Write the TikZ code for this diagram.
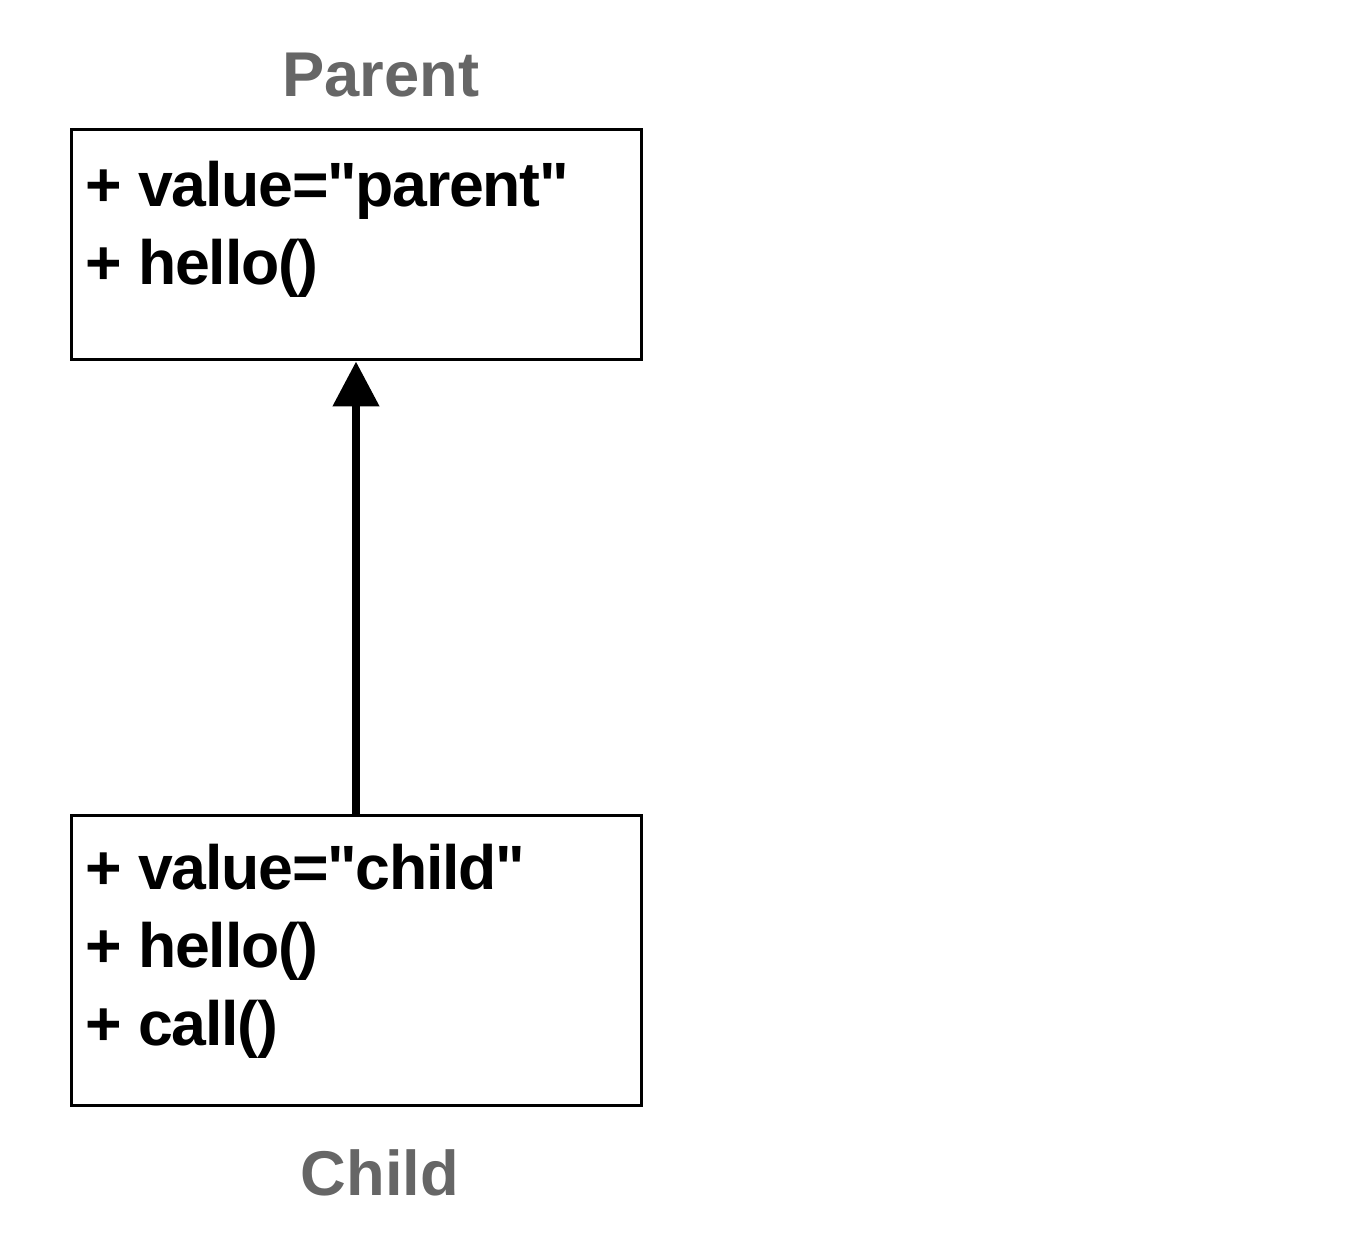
\documentclass[tikz,border=0pt]{standalone}
\usepackage{fontspec}
\setmainfont{Liberation Sans}[Ligatures=TeXOff]
\usetikzlibrary{arrows.meta}
\definecolor{labelgray}{RGB}{102,102,102}
\tikzset{
  classbox/.style={draw, line width=0.03cm, minimum width=5.70cm, inner sep=0pt},
  members/.style={anchor=north west, align=left, inner sep=0pt,
    font=\bfseries\fontsize{17.8}{22.2}\selectfont\addfontfeature{LetterSpace=-2}},
  classname/.style={text=labelgray, font=\bfseries\fontsize{18}{22}\selectfont}
}
\begin{document}
\begin{tikzpicture}
  \useasboundingbox (0, 0) rectangle (13.72, 12.5);

  \node [classname] (Parent_name) at (3.81, 11.75) {Parent};
  \node [classbox, minimum height=2.30cm] (Parent_box) at (3.56, 10.05) {};
  \node [members] (Parent_members) at (0.85, 10.90) {+ value="parent"\\+ hello()};

  \node [classbox, minimum height=2.90cm] (Child_box) at (3.56, 2.90) {};
  \node [members] (Child_members) at (0.85, 4.07) {+ value="child"\\+ hello()\\+ call()};
  \node [classname] (Child_name) at (3.80, 0.77) {Child};

  \draw [line width=0.08cm, -{Triangle[width=0.45cm, length=0.45cm]}] (Child_box) -- (Parent_box);
\end{tikzpicture}
\end{document}
